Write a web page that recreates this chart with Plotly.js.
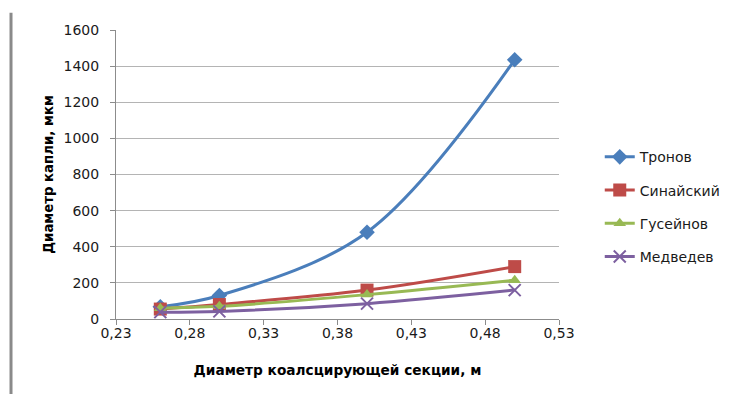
<!DOCTYPE html>
<html>
<head>
<meta charset="utf-8">
<script src="https://cdn.plot.ly/plotly-3.0.1.min.js"></script>
<style>html,body{margin:0;padding:0;background:#fff;}#chart{width:740px;height:394px;}</style>
</head>
<body>
<div id="chart"></div>
<script>
const diameters = [0.26, 0.30, 0.40, 0.50];
const tronov = [68, 130, 480, 1435];
const sinaysky = [55, 80, 160, 290];
const guseynov = [60, 70, 135, 215];
const medvedev = [38, 42, 85, 160];
const seriesNames = ['Тронов', 'Синайский', 'Гусейнов', 'Медведев'];
const xTickVals = [0.23, 0.28, 0.33, 0.38, 0.43, 0.48, 0.53];
const xTickText = ['0,23', '0,28', '0,33', '0,38', '0,43', '0,48', '0,53'];
const yTickVals = [0, 200, 400, 600, 800, 1000, 1200, 1400, 1600];
const yTickText = ['0', '200', '400', '600', '800', '1000', '1200', '1400', '1600'];

const colors = ['#4A7EBB', '#BE4B48', '#98B954', '#7D60A0'];
const symbols = ['diamond', 'square', 'triangle-up', 'x-thin-open'];
const sizes = [12, 13, 11, 12];
const values = [tronov, sinaysky, guseynov, medvedev];

const traces = values.map((v, i) => ({
  x: diameters,
  y: v,
  name: seriesNames[i],
  type: 'scatter',
  mode: 'lines+markers',
  line: {color: colors[i], width: 3, shape: 'spline', smoothing: 1},
  marker: {symbol: symbols[i], size: sizes[i], color: colors[i],
           line: {color: colors[i], width: i === 3 ? 2 : 0}},
  legendgroup: 'g' + i
}));

const font = "'DejaVu Sans', 'Liberation Sans', sans-serif";
const layout = {
  width: 740, height: 394,
  margin: {l: 116, r: 181, t: 30, b: 75},
  paper_bgcolor: '#fff', plot_bgcolor: '#fff',
  font: {family: font, size: 14, color: '#1a1a1a'},
  showlegend: true,
  legend: {x: 1.092, y: 0.615, xanchor: 'left', yanchor: 'top',
           font: {family: font, size: 14, color: '#1a1a1a'},
           traceorder: 'grouped', tracegroupgap: 12, itemwidth: 30,
           bgcolor: 'rgba(0,0,0,0)'},
  xaxis: {
    range: [0.23, 0.53], tickvals: xTickVals, ticktext: xTickText,
    showgrid: false, zeroline: false, showline: true, linecolor: '#8c8c8c', linewidth: 1,
    ticks: 'outside', ticklen: 5, tickcolor: '#8c8c8c', ticklabelstandoff: -4,
    tickfont: {family: font, size: 14, color: '#1a1a1a'},
    title: {text: 'Диаметр коалсцирующей секции, м', font: {family: font, size: 13.7, color: '#000', weight: 'bold'}, standoff: 25}
  },
  yaxis: {
    range: [0, 1600], tickvals: yTickVals, ticktext: yTickText,
    showgrid: true, gridcolor: '#b4b4b4', gridwidth: 1,
    zeroline: false, showline: true, linecolor: '#8c8c8c', linewidth: 1,
    ticks: 'outside', ticklen: 5, tickcolor: '#8c8c8c', ticklabelstandoff: 8,
    tickfont: {family: font, size: 14, color: '#1a1a1a'},
    title: {text: 'Диаметр капли, мкм', font: {family: font, size: 13.3, color: '#000', weight: 'bold'}, standoff: 6}
  },
  shapes: [{type: 'line', xref: 'paper', yref: 'paper', x0: -0.237, x1: -0.237, y0: -0.26, y1: 1.06,
            line: {color: '#8a8a8a', width: 3}}]
};

Plotly.newPlot('chart', traces, layout, {displayModeBar: false, staticPlot: true});
</script>
</body>
</html>
